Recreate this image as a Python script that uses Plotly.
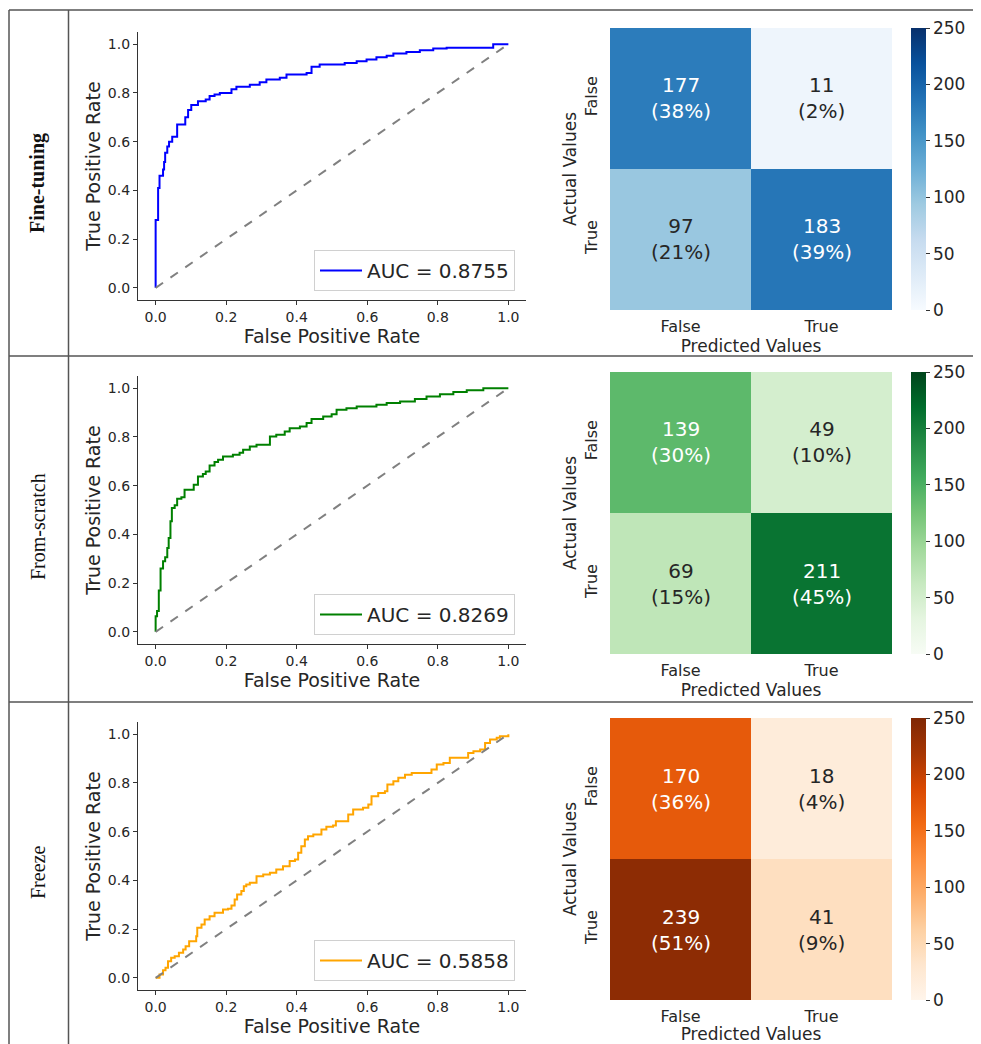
import plotly.graph_objects as go
import plotly.colors as pc

# ---------------- data ----------------
row_labels = ["<b>Fine-tuning</b>", "From-scratch", "Freeze"]
auc_values = [0.8755, 0.8269, 0.5858]
roc_colors = ["#0000ff", "#008000", "#ffa500"]

fpr_ft = [0, 0, 0.007, 0.011, 0.021, 0.024, 0.027, 0.033, 0.038, 0.047, 0.061, 0.084, 0.092, 0.101,
          0.12, 0.142, 0.153, 0.167, 0.182, 0.215, 0.229, 0.267, 0.295, 0.314, 0.352, 0.371, 0.428,
          0.442, 0.465, 0.536, 0.57, 0.598, 0.626, 0.655, 0.674, 0.711, 0.749, 0.787, 0.825, 0.957, 1.0]
tpr_ft = [0, 0.278, 0.41, 0.46, 0.486, 0.516, 0.554, 0.58, 0.60, 0.62, 0.67, 0.70, 0.73, 0.75,
          0.766, 0.773, 0.787, 0.793, 0.80, 0.815, 0.825, 0.834, 0.844, 0.855, 0.862, 0.876, 0.882,
          0.907, 0.917, 0.923, 0.93, 0.937, 0.946, 0.953, 0.962, 0.968, 0.975, 0.982, 0.985, 1.0, 1.0]

fpr_fs = [0, 0, 0.004, 0.009, 0.014, 0.021, 0.027, 0.033, 0.037, 0.042, 0.046, 0.054, 0.061, 0.073,
          0.082, 0.108, 0.12, 0.134, 0.142, 0.153, 0.167, 0.177, 0.191, 0.219, 0.238, 0.248, 0.267,
          0.286, 0.324, 0.342, 0.366, 0.38, 0.409, 0.428, 0.442, 0.475, 0.499, 0.513, 0.541, 0.57,
          0.626, 0.655, 0.693, 0.735, 0.768, 0.806, 0.844, 0.882, 0.929, 1.0]
tpr_fs = [0, 0.064, 0.085, 0.17, 0.26, 0.29, 0.306, 0.344, 0.385, 0.454, 0.508, 0.52, 0.546, 0.552,
          0.583, 0.604, 0.638, 0.648, 0.658, 0.683, 0.697, 0.706, 0.72, 0.727, 0.735, 0.747, 0.761,
          0.768, 0.802, 0.809, 0.822, 0.836, 0.843, 0.857, 0.874, 0.884, 0.893, 0.911, 0.918, 0.925,
          0.932, 0.939, 0.945, 0.956, 0.966, 0.975, 0.984, 0.992, 1.0, 1.0]

fpr_fz = [0, 0.011, 0.021, 0.028, 0.035, 0.044, 0.054, 0.066, 0.078, 0.085, 0.095, 0.115, 0.118,
          0.13, 0.139, 0.153, 0.167, 0.191, 0.205, 0.215, 0.224, 0.231, 0.243, 0.25, 0.257, 0.267,
          0.286, 0.305, 0.324, 0.342, 0.361, 0.38, 0.395, 0.404, 0.413, 0.423, 0.432, 0.447, 0.47,
          0.484, 0.503, 0.511, 0.546, 0.56, 0.588, 0.603, 0.612, 0.631, 0.65, 0.657, 0.674, 0.688,
          0.707, 0.726, 0.782, 0.797, 0.816, 0.834, 0.886, 0.901, 0.92, 0.934, 0.948, 0.967, 0.976, 1.0]
tpr_fz = [0, 0.014, 0.031, 0.041, 0.068, 0.082, 0.089, 0.103, 0.116, 0.13, 0.15, 0.171, 0.205,
          0.219, 0.239, 0.253, 0.267, 0.28, 0.283, 0.297, 0.321, 0.342, 0.356, 0.376, 0.383, 0.39,
          0.417, 0.424, 0.431, 0.445, 0.458, 0.479, 0.486, 0.513, 0.54, 0.568, 0.581, 0.588, 0.609,
          0.62, 0.625, 0.643, 0.67, 0.691, 0.698, 0.711, 0.745, 0.759, 0.766, 0.793, 0.807, 0.821,
          0.834, 0.841, 0.855, 0.876, 0.882, 0.903, 0.923, 0.93, 0.937, 0.964, 0.978, 0.985, 0.992, 1.0]

roc_fpr = [fpr_ft, fpr_fs, fpr_fz]
roc_tpr = [tpr_ft, tpr_fs, tpr_fz]

cm_categories = ["False", "True"]
cm_ft = [[177, 11], [97, 183]]
cm_fs = [[139, 49], [69, 211]]
cm_fz = [[170, 18], [239, 41]]
cms = [cm_ft, cm_fs, cm_fz]
cb_ticks = [0, 50, 100, 150, 200, 250]
cmap_names = ["Blues", "Greens", "Oranges"]

# ---------------- layout helpers ----------------
# the page body has an 8px margin, so the figure is drawn 8px smaller and offset
OX, OY = 8, 8
W, H = 981 - OX, 1044 - OY
def px_x(p):
    return (p - OX) / W
def px_y(p):
    return 1 - (p - OY) / H

row_off = [0, 344, 690]
FONT = "DejaVu Sans"
TXT = "#262626"

def cscale(name):
    cols = getattr(pc.sequential, name)
    n = len(cols)
    return [[i / (n - 1), c] for i, c in enumerate(cols)]

fig = go.Figure()
layout = dict(width=W, height=H, margin=dict(l=0, r=0, t=0, b=0),
              paper_bgcolor="white", plot_bgcolor="white", showlegend=True,
              font=dict(family=FONT, color=TXT))
annotations = []
shapes = []

for i in range(3):
    off = row_off[i]
    xa = "x" if i == 0 else f"x{i+1}"
    ya = "y" if i == 0 else f"y{i+1}"
    lg = "legend" if i == 0 else f"legend{i+1}"
    # ROC curve
    fig.add_trace(go.Scatter(x=roc_fpr[i], y=roc_tpr[i], mode="lines", line_shape="hv",
                             line=dict(color=roc_colors[i], width=2),
                             name=f"AUC = {auc_values[i]:.4f}", xaxis=xa, yaxis=ya, legend=lg))
    fig.add_trace(go.Scatter(x=[0, 1], y=[0, 1], mode="lines",
                             line=dict(color="#808080", width=2, dash="dash"),
                             showlegend=False, xaxis=xa, yaxis=ya, hoverinfo="skip"))
    kx = "xaxis" if i == 0 else f"xaxis{i+1}"
    ky = "yaxis" if i == 0 else f"yaxis{i+1}"
    layout[kx] = dict(domain=[px_x(138), px_x(526)], anchor=ya, range=[-0.05, 1.05],
                      tickvals=[0, 0.2, 0.4, 0.6, 0.8, 1.0], tickformat=".1f",
                      showline=True, linecolor="#333", linewidth=1.2, ticks="outside",
                      ticklen=4, tickcolor="#333", showgrid=False, zeroline=False,
                      tickfont=dict(size=14, family=FONT, color=TXT),
                      title=dict(text="False Positive Rate", standoff=3,
                                 font=dict(size=19, family=FONT, color=TXT)))
    layout[ky] = dict(domain=[px_y(300 + off), px_y(32 + off)], anchor=xa, range=[-0.05, 1.05],
                      tickvals=[0, 0.2, 0.4, 0.6, 0.8, 1.0], tickformat=".1f",
                      showline=True, linecolor="#333", linewidth=1.2, ticks="outside",
                      ticklen=4, tickcolor="#333", showgrid=False, zeroline=False,
                      tickfont=dict(size=14, family=FONT, color=TXT),
                      title=dict(text="True Positive Rate", standoff=2,
                                 font=dict(size=19, family=FONT, color=TXT)))
    layout[lg] = dict(x=px_x(515), y=px_y(291 + off), xanchor="right", yanchor="bottom",
                      bordercolor="#d0d0d0", borderwidth=1, bgcolor="rgba(255,255,255,0.9)",
                      itemwidth=42, font=dict(size=20, family=FONT, color=TXT))

    # Confusion matrix heatmap
    j = i + 4
    hxa, hya = f"x{j}", f"y{j}"
    cm = cms[i]
    fig.add_trace(go.Heatmap(z=cm, x=cm_categories, y=cm_categories, zmin=0, zmax=250,
                             colorscale=cscale(cmap_names[i]), xaxis=hxa, yaxis=hya, xgap=0, ygap=0,
                             showscale=True, hoverinfo="skip",
                             colorbar=dict(x=px_x(911), xanchor="left", y=px_y(28 + off),
                                           yanchor="top", len=282, lenmode="pixels",
                                           thickness=15, thicknessmode="pixels", outlinewidth=0,
                                           tickvals=cb_ticks, ticks="outside", ticklen=4,
                                           tickcolor="#333", xpad=0, ypad=0,
                                           tickfont=dict(size=17, family=FONT, color=TXT))))
    layout[f"xaxis{j}"] = dict(domain=[px_x(610), px_x(892)], anchor=hya, showgrid=False,
                               zeroline=False, showline=False, ticks="outside", ticklen=2,
                               tickcolor="rgba(0,0,0,0)", type="category",
                               tickfont=dict(size=16, family=FONT, color=TXT),
                               title=dict(text="Predicted Values", standoff=4,
                                          font=dict(size=17, family=FONT, color=TXT)))
    layout[f"yaxis{j}"] = dict(domain=[px_y(310 + off), px_y(28 + off)], anchor=hxa,
                               showgrid=False, zeroline=False, showline=False, ticks="outside",
                               ticklen=6, tickcolor="rgba(0,0,0,0)",
                               type="category", autorange="reversed", tickangle=-90,
                               tickfont=dict(size=16, family=FONT, color=TXT),
                               title=dict(text="Actual Values", standoff=0,
                                          font=dict(size=17, family=FONT, color=TXT)))
    total = sum(sum(r) for r in cm)
    for r in range(2):
        for c in range(2):
            v = cm[r][c]
            annotations.append(dict(x=cm_categories[c], y=cm_categories[r], xref=hxa, yref=hya,
                                    text=f"{v}<br>({round(100 * v / total)}%)", showarrow=False,
                                    font=dict(size=20, family=FONT,
                                              color="white" if v > 125 else TXT)))

    # row label
    annotations.append(dict(x=px_x(38), y=px_y(183 + off), xref="paper", yref="paper",
                            xanchor="center", yanchor="middle",
                            text=row_labels[i], textangle=-90, showarrow=False,
                            font=dict(size=20, family="Liberation Serif", color="#111")))

# table lines
LC = "#555"
def hline(y, x0, x1):
    shapes.append(dict(type="line", xref="paper", yref="paper", x0=px_x(x0), x1=px_x(x1),
                       y0=px_y(y), y1=px_y(y), line=dict(color=LC, width=1.5)))
def vline(x, y0, y1):
    shapes.append(dict(type="line", xref="paper", yref="paper", x0=px_x(x), x1=px_x(x),
                       y0=px_y(y0), y1=px_y(y1), line=dict(color=LC, width=1.5)))
hline(10, 9, 981)
hline(356, 9, 981)
hline(702, 9, 981)
vline(9, 10, 1044)
vline(68.5, 10, 1044)

layout["annotations"] = annotations
layout["shapes"] = shapes
fig.update_layout(**layout)
fig.write_html("out.html")
